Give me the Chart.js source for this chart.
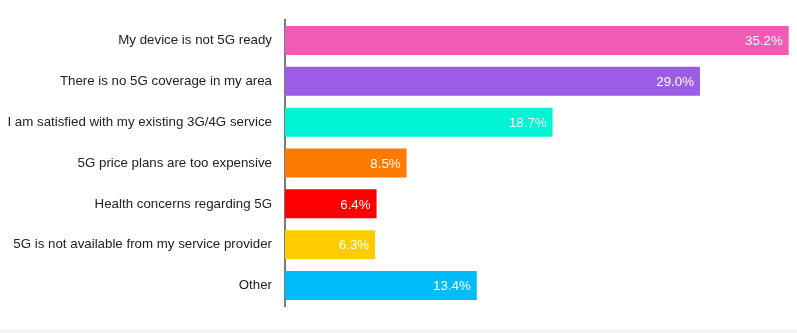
<!DOCTYPE html>
<html>
<head>
<meta charset="utf-8">
<script src="https://cdn.jsdelivr.net/npm/chart.js@4/dist/chart.umd.min.js"></script>
<style>
  html, body { margin: 0; padding: 0; background: #fff; }
  #wrap { position: relative; width: 797px; height: 330px; }
  #strip { width: 797px; height: 3px; background: #f3f3f3; }
</style>
</head>
<body>
<div id="wrap"><canvas id="chart"></canvas></div>
<div id="strip"></div>
<script>
const LABELS = [
  "My device is not 5G ready",
  "There is no 5G coverage in my area",
  "I am satisfied with my existing 3G/4G service",
  "5G price plans are too expensive",
  "Health concerns regarding 5G",
  "5G is not available from my service provider",
  "Other",
];
const VALUES = [35.2, 29.0, 18.7, 8.5, 6.4, 6.3, 13.4];
const COLORS = ["#f15bb5", "#9b5de5", "#00f5d4", "#ff7a00", "#ff0000", "#ffcc00", "#00bbf9"];
const X_MAX  = 35.5;

const FONT = "'Liberation Sans', Arial, Helvetica, sans-serif";

// white value labels at the inner end of each bar
const valueLabels = {
  id: "valueLabels",
  afterDatasetsDraw(chart) {
    const ctx = chart.ctx;
    const meta = chart.getDatasetMeta(0);
    ctx.save();
    ctx.font = "13.3px " + FONT;
    ctx.fillStyle = "#ffffff";
    ctx.textAlign = "right";
    ctx.textBaseline = "middle";
    meta.data.forEach((bar, i) => {
      ctx.fillText(VALUES[i].toFixed(1) + "%", bar.x - 6, bar.y + 1);
    });
    ctx.restore();
  },
};

new Chart(document.getElementById("chart"), {
  type: "bar",
  data: {
    labels: LABELS,
    datasets: [{
      data: VALUES,
      backgroundColor: COLORS,
      borderWidth: 0,
      categoryPercentage: 0.71,
      barPercentage: 1,
    }],
  },
  options: {
    indexAxis: "y",
    responsive: true,
    maintainAspectRatio: false,
    animation: false,
    layout: { padding: { top: 20, bottom: 24, left: 0, right: 4 } },
    plugins: { legend: { display: false }, tooltip: { enabled: false } },
    scales: {
      x: { display: false, min: 0, max: X_MAX },
      y: {
        grid: { display: false },
        border: { display: true, color: "#7a7a7a", width: 2 },
        ticks: { color: "#222222", font: { family: FONT, size: 13.3 }, padding: 5 },
        afterFit(scale) { scale.width = 285; },
      },
    },
  },
  plugins: [valueLabels],
});
</script>
</body>
</html>
